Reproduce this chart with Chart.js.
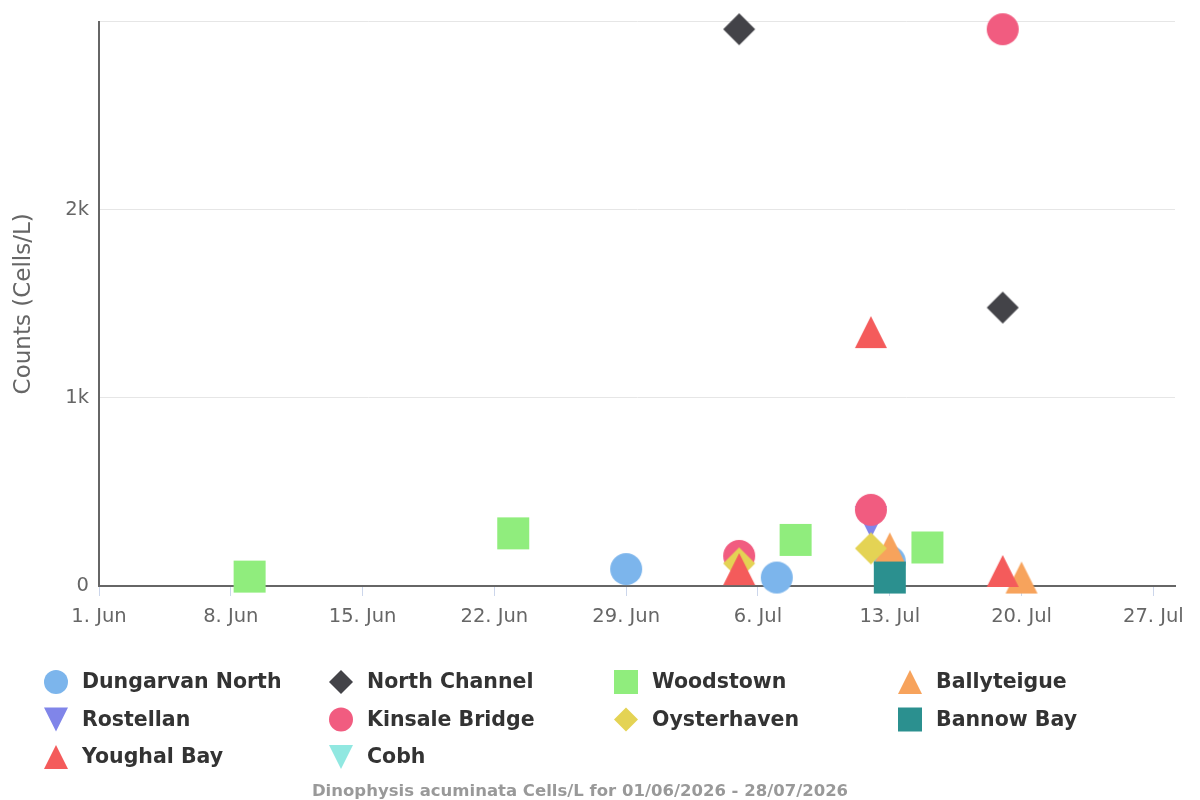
<!DOCTYPE html>
<html>
<head>
<meta charset="utf-8">
<script src="https://cdn.jsdelivr.net/npm/chart.js@4.4.1/dist/chart.umd.min.js"></script>
<style>
    html, body { margin: 0; padding: 0; background: #fff; }
</style>
</head>
<body>
<canvas id="myChart" width="1200" height="800"></canvas>
<script>
// sample dates and counts (cells/L) per station
const dungarvanDates = ['2026-06-29', '2026-07-07', '2026-07-13'];
const dungarvanCounts = [90, 45, 130];
const northChannelDates = ['2026-07-05', '2026-07-19'];
const northChannelCounts = [2960, 1480];
const woodstownDates = ['2026-06-09', '2026-06-23', '2026-07-08', '2026-07-15'];
const woodstownCounts = [50, 280, 245, 205];
const ballyteigueDates = ['2026-07-13', '2026-07-20'];
const ballyteigueCounts = [200, 45];
const rostellanDates = ['2026-07-12'];
const rostellanCounts = [340];
const kinsaleDates = ['2026-07-05', '2026-07-12', '2026-07-19'];
const kinsaleCounts = [160, 405, 2960];
const oysterhavenDates = ['2026-07-05', '2026-07-12'];
const oysterhavenCounts = [120, 200];
const bannowDates = ['2026-07-13'];
const bannowCounts = [45];
const youghalDates = ['2026-07-05', '2026-07-12', '2026-07-19'];
const youghalCounts = [90, 1350, 80];
const cobhDates = [];
const cobhCounts = [];

const stationNames = ['Dungarvan North', 'North Channel', 'Woodstown', 'Ballyteigue', 'Rostellan',
    'Kinsale Bridge', 'Oysterhaven', 'Bannow Bay', 'Youghal Bay', 'Cobh'];
const stationColors = ['#7cb5ec', '#434348', '#90ed7d', '#f7a35c', '#8085e9',
    '#f15c80', '#e4d354', '#2b908f', '#f45b5b', '#91e8e1'];
const stationSymbols = ['circle', 'diamond', 'square', 'triangle', 'triangle-down',
    'circle', 'diamond', 'square', 'triangle', 'triangle-down'];
const stationDates = [dungarvanDates, northChannelDates, woodstownDates, ballyteigueDates, rostellanDates,
    kinsaleDates, oysterhavenDates, bannowDates, youghalDates, cobhDates];
const stationCounts = [dungarvanCounts, northChannelCounts, woodstownCounts, ballyteigueCounts, rostellanCounts,
    kinsaleCounts, oysterhavenCounts, bannowCounts, youghalCounts, cobhCounts];

const rangeStart = '2026-06-01';
const rangeEnd = '2026-07-28';
const monthNames = ['Jan', 'Feb', 'Mar', 'Apr', 'May', 'Jun', 'Jul', 'Aug', 'Sep', 'Oct', 'Nov', 'Dec'];
const yTicks = [0, 1000, 2000, 3000];
const yTickLabels = ['0', '1k', '2k', ''];
const chartTitle = 'Dinophysis acuminata Cells/L for 01/06/2026 - 28/07/2026';
const yTitle = 'Counts (Cells/L)';

const DAY = 86400000;
function toDay(s) {
    let p = s.split('-');
    let start = rangeStart.split('-');
    return (Date.UTC(+p[0], p[1] - 1, +p[2]) - Date.UTC(+start[0], start[1] - 1, +start[2])) / DAY;
}
function dayLabel(v) {
    let start = rangeStart.split('-');
    let d = new Date(Date.UTC(+start[0], start[1] - 1, +start[2]) + v * DAY);
    return d.getUTCDate() + '. ' + monthNames[d.getUTCMonth()];
}

function drawShape(ctx, symbol, x, y, r) {
    ctx.beginPath();
    if (symbol === 'circle') {
        ctx.arc(x, y, r, 0, Math.PI * 2);
    } else if (symbol === 'square') {
        ctx.rect(x - r, y - r, 2 * r, 2 * r);
    } else if (symbol === 'diamond') {
        ctx.moveTo(x, y - r);
        ctx.lineTo(x + r, y);
        ctx.lineTo(x, y + r);
        ctx.lineTo(x - r, y);
    } else if (symbol === 'triangle') {
        ctx.moveTo(x, y - r);
        ctx.lineTo(x + r, y + r);
        ctx.lineTo(x - r, y + r);
    } else {
        ctx.moveTo(x - r, y - r);
        ctx.lineTo(x + r, y - r);
        ctx.lineTo(x, y + r);
    }
    ctx.closePath();
    ctx.fill();
}

function markerImage(symbol, color, r) {
    let c = document.createElement('canvas');
    c.width = 2 * r + 2;
    c.height = 2 * r + 2;
    let g = c.getContext('2d');
    g.fillStyle = color;
    drawShape(g, symbol, r + 1, r + 1, r);
    return c;
}

let datasets = [];
for (let i = 0; i < stationNames.length; i++) {
    let points = [];
    for (let j = 0; j < stationDates[i].length; j++) {
        points.push({ x: toDay(stationDates[i][j]), y: stationCounts[i][j] });
    }
    datasets.push({
        label: stationNames[i],
        data: points,
        backgroundColor: stationColors[i],
        borderColor: stationColors[i],
        pointStyle: markerImage(stationSymbols[i], stationColors[i], 16),
        pointRadius: 16,
        pointHoverRadius: 16,
        order: stationNames.length - i,
        clip: false
    });
}

// legend in 4 columns + caption under the plot
const bottomPlugin = {
    id: 'bottomLegend',
    afterDraw: function (chart) {
        let ctx = chart.ctx;
        ctx.save();
        let colX = [56, 341, 626, 910];
        let rowY = [682, 719.5, 757];
        ctx.font = 'bold 20.5px "DejaVu Sans"';
        ctx.textBaseline = 'middle';
        ctx.textAlign = 'left';
        for (let i = 0; i < stationNames.length; i++) {
            let cx = colX[i % 4];
            let cy = rowY[Math.floor(i / 4)];
            ctx.fillStyle = stationColors[i];
            drawShape(ctx, stationSymbols[i], cx, cy, 12);
            ctx.fillStyle = '#333333';
            ctx.fillText(stationNames[i], cx + 26, cy + 1);
        }
        ctx.font = 'bold 16.5px "DejaVu Sans"';
        ctx.fillStyle = '#999999';
        ctx.textAlign = 'center';
        ctx.fillText(chartTitle, 580, 792);
        ctx.restore();
    }
};

let ctx = document.getElementById('myChart').getContext('2d');
let chart = new Chart(ctx, {
    type: 'scatter',
    data: { datasets: datasets },
    plugins: [bottomPlugin],
    options: {
        responsive: false,
        animation: false,
        layout: { padding: { left: 0, top: 16, right: 25, bottom: 174 } },
        plugins: {
            legend: { display: false },
            tooltip: { enabled: false }
        },
        scales: {
            x: {
                type: 'linear',
                min: 0,
                max: toDay(rangeEnd) + 0.15,
                afterFit: function (scale) { scale.height = 40; },
                border: { display: true, color: '#666666', width: 2 },
                grid: { display: true, drawOnChartArea: false, drawTicks: true, tickLength: 10, color: '#ccd6eb' },
                ticks: {
                    stepSize: 7,
                    includeBounds: false,
                    padding: 9,
                    color: '#666666',
                    font: { family: 'DejaVu Sans', size: 19.5 },
                    maxRotation: 0,
                    autoSkip: false,
                    callback: function (v) { return dayLabel(v); }
                }
            },
            y: {
                min: 0,
                max: 3000,
                afterFit: function (scale) { scale.width = 99; },
                afterBuildTicks: function (scale) { scale.ticks = yTicks.map(function (v) { return { value: v }; }); },
                border: { display: true, color: '#666666', width: 2 },
                grid: { color: '#e6e6e6', drawTicks: false },
                ticks: {
                    padding: 10,
                    color: '#666666',
                    font: { family: 'DejaVu Sans', size: 19.5 },
                    callback: function (v) { return yTickLabels[yTicks.indexOf(v)]; }
                },
                title: {
                    display: true,
                    text: yTitle,
                    color: '#666666',
                    font: { family: 'DejaVu Sans', size: 23 },
                    padding: { top: 10, bottom: 0 }
                }
            }
        }
    }
});
</script>
</body>
</html>
